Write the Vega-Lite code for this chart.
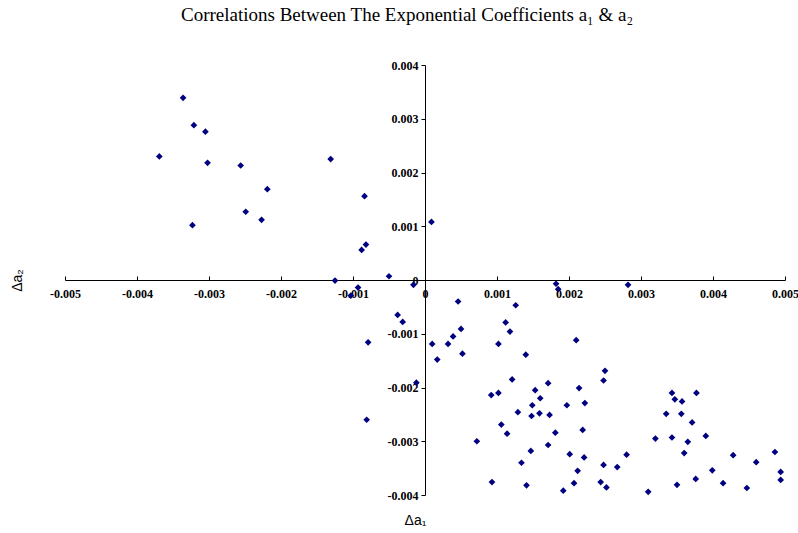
{
  "$schema": "https://vega.github.io/schema/vega-lite/v6.json",
  "width": 720,
  "height": 430,
  "autosize": "none",
  "padding": {"left": 65, "top": 65, "right": 13, "bottom": 38},
  "background": "white",
  "title": {
    "text": "Correlations Between The Exponential Coefficients a₁ & a₂",
    "font": "Liberation Serif",
    "fontSize": 19,
    "fontWeight": "normal",
    "color": "black",
    "anchor": "middle",
    "dx": -18,
    "offset": 34
  },
  "config": {
    "view": {"stroke": null},
    "axis": {"grid": false, "domainColor": "black", "tickColor": "black"}
  },
  "data": {
    "values": [
      {"a1": -0.00369, "a2": 0.00230},
      {"a1": -0.00336, "a2": 0.00339},
      {"a1": -0.00321, "a2": 0.00288},
      {"a1": -0.00305, "a2": 0.00276},
      {"a1": -0.00302, "a2": 0.00218},
      {"a1": -0.00323, "a2": 0.00102},
      {"a1": -0.00256, "a2": 0.00213},
      {"a1": -0.00249, "a2": 0.00127},
      {"a1": -0.00227, "a2": 0.00112},
      {"a1": -0.00219, "a2": 0.00169},
      {"a1": -0.00131, "a2": 0.00225},
      {"a1": -0.00084, "a2": 0.00156},
      {"a1": -0.00088, "a2": 0.00056},
      {"a1": -0.00082, "a2": 0.00066},
      {"a1": 0.00009, "a2": 0.00108},
      {"a1": -0.00125, "a2": -0.00001},
      {"a1": -0.00093, "a2": -0.00014},
      {"a1": -0.00050, "a2": 0.00007},
      {"a1": -0.00016, "a2": -0.00009},
      {"a1": -0.00103, "a2": -0.00029},
      {"a1": -0.00038, "a2": -0.00065},
      {"a1": -0.00031, "a2": -0.00078},
      {"a1": -0.00079, "a2": -0.00116},
      {"a1": -0.00081, "a2": -0.00260},
      {"a1": -0.00012, "a2": -0.00191},
      {"a1": 0.00010, "a2": -0.00119},
      {"a1": 0.00017, "a2": -0.00148},
      {"a1": 0.00032, "a2": -0.00119},
      {"a1": 0.00039, "a2": -0.00105},
      {"a1": 0.00046, "a2": -0.00040},
      {"a1": 0.00050, "a2": -0.00091},
      {"a1": 0.00052, "a2": -0.00137},
      {"a1": 0.00072, "a2": -0.00300},
      {"a1": 0.00092, "a2": -0.00214},
      {"a1": 0.00093, "a2": -0.00376},
      {"a1": 0.00102, "a2": -0.00119},
      {"a1": 0.00102, "a2": -0.00210},
      {"a1": 0.00106, "a2": -0.00269},
      {"a1": 0.00112, "a2": -0.00079},
      {"a1": 0.00114, "a2": -0.00286},
      {"a1": 0.00118, "a2": -0.00096},
      {"a1": 0.00121, "a2": -0.00185},
      {"a1": 0.00126, "a2": -0.00047},
      {"a1": 0.00129, "a2": -0.00246},
      {"a1": 0.00134, "a2": -0.00340},
      {"a1": 0.00140, "a2": -0.00139},
      {"a1": 0.00141, "a2": -0.00382},
      {"a1": 0.00147, "a2": -0.00318},
      {"a1": 0.00148, "a2": -0.00253},
      {"a1": 0.00149, "a2": -0.00233},
      {"a1": 0.00153, "a2": -0.00205},
      {"a1": 0.00159, "a2": -0.00248},
      {"a1": 0.00160, "a2": -0.00220},
      {"a1": 0.00171, "a2": -0.00192},
      {"a1": 0.00171, "a2": -0.00307},
      {"a1": 0.00173, "a2": -0.00251},
      {"a1": 0.00181, "a2": -0.00284},
      {"a1": 0.00182, "a2": -0.00007},
      {"a1": 0.00185, "a2": -0.00017},
      {"a1": 0.00192, "a2": -0.00392},
      {"a1": 0.00197, "a2": -0.00233},
      {"a1": 0.00201, "a2": -0.00324},
      {"a1": 0.00207, "a2": -0.00378},
      {"a1": 0.00210, "a2": -0.00112},
      {"a1": 0.00212, "a2": -0.00355},
      {"a1": 0.00214, "a2": -0.00201},
      {"a1": 0.00219, "a2": -0.00279},
      {"a1": 0.00221, "a2": -0.00330},
      {"a1": 0.00222, "a2": -0.00229},
      {"a1": 0.00244, "a2": -0.00376},
      {"a1": 0.00248, "a2": -0.00187},
      {"a1": 0.00250, "a2": -0.00169},
      {"a1": 0.00248, "a2": -0.00344},
      {"a1": 0.00252, "a2": -0.00386},
      {"a1": 0.00267, "a2": -0.00348},
      {"a1": 0.00280, "a2": -0.00325},
      {"a1": 0.00282, "a2": -0.00009},
      {"a1": 0.00310, "a2": -0.00394},
      {"a1": 0.00320, "a2": -0.00295},
      {"a1": 0.00335, "a2": -0.00249},
      {"a1": 0.00343, "a2": -0.00210},
      {"a1": 0.00347, "a2": -0.00222},
      {"a1": 0.00343, "a2": -0.00293},
      {"a1": 0.00350, "a2": -0.00381},
      {"a1": 0.00356, "a2": -0.00249},
      {"a1": 0.00357, "a2": -0.00226},
      {"a1": 0.00360, "a2": -0.00322},
      {"a1": 0.00365, "a2": -0.00301},
      {"a1": 0.00371, "a2": -0.00265},
      {"a1": 0.00376, "a2": -0.00370},
      {"a1": 0.00377, "a2": -0.00210},
      {"a1": 0.00390, "a2": -0.00290},
      {"a1": 0.00399, "a2": -0.00354},
      {"a1": 0.00414, "a2": -0.00378},
      {"a1": 0.00428, "a2": -0.00326},
      {"a1": 0.00447, "a2": -0.00387},
      {"a1": 0.00460, "a2": -0.00339},
      {"a1": 0.00486, "a2": -0.00320},
      {"a1": 0.00494, "a2": -0.00357},
      {"a1": 0.00494, "a2": -0.00372}
    ]
  },
  "mark": {"type": "point", "shape": "diamond", "filled": true, "color": "#000080", "size": 45, "opacity": 1},
  "encoding": {
    "x": {
      "field": "a1",
      "type": "quantitative",
      "scale": {"domain": [-0.005, 0.005], "nice": false, "zero": false},
      "axis": {
        "title": "Δa₁",
        "titleFont": "Liberation Sans",
        "titleFontSize": 14,
        "titleFontWeight": "normal",
        "titleColor": "black",
        "titleX": 350,
        "titleY": 240,
        "titleBaseline": "middle",
        "offset": -215,
        "values": [-0.005, -0.004, -0.003, -0.002, -0.001, 0, 0.001, 0.002, 0.003, 0.004, 0.005],
        "labelExpr": "datum.value === 0 ? '0' : replace(format(datum.value, '.3f'), '\u2212', '-')",
        "labelFont": "Liberation Serif",
        "labelFontSize": 12,
        "labelFontWeight": "bold",
        "labelColor": "black",
        "labelFlush": false,
        "labelOverlap": false,
        "labelPadding": 12,
        "tickSize": -4
      }
    },
    "y": {
      "field": "a2",
      "type": "quantitative",
      "scale": {"domain": [-0.004, 0.004], "nice": false, "zero": false},
      "axis": {
        "title": "Δa₂",
        "titleFont": "Liberation Sans",
        "titleFontSize": 14,
        "titleFontWeight": "normal",
        "titleColor": "black",
        "titleX": -408,
        "titleY": 215,
        "titleBaseline": "middle",
        "titleAngle": -90,
        "offset": -360,
        "values": [-0.004, -0.003, -0.002, -0.001, 0, 0.001, 0.002, 0.003, 0.004],
        "labelExpr": "datum.value === 0 ? '0' : replace(format(datum.value, '.3f'), '\u2212', '-')",
        "labelFont": "Liberation Serif",
        "labelFontSize": 12,
        "labelFontWeight": "bold",
        "labelColor": "black",
        "labelFlush": false,
        "labelOverlap": false,
        "labelPadding": 3,
        "tickSize": 4
      }
    }
  }
}
